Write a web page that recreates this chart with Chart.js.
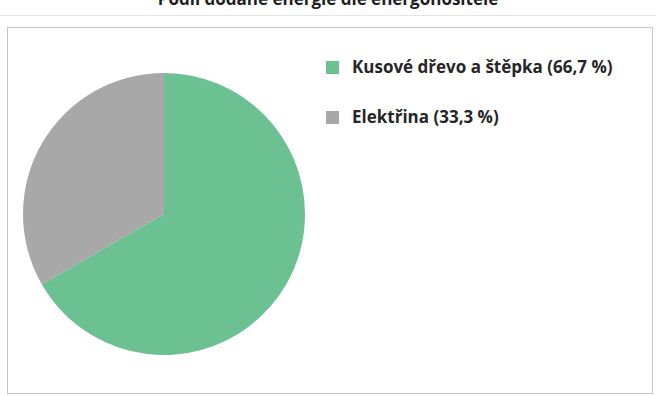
<!DOCTYPE html>
<html>
<head>
<meta charset="utf-8">
<script src="https://cdn.jsdelivr.net/npm/chart.js@4"></script>
<style>
  body { margin: 0; background: #fff; width: 656px; height: 396px; overflow: hidden; position: relative; font-family: "Open Sans", sans-serif; }
  #titulek { position: absolute; left: 0; width: 656px; top: -10px; text-align: center; font-weight: bold; font-size: 17px; line-height: 17px; color: #1e1e1e; }
  #linka { position: absolute; left: 0; width: 656px; top: 15px; border-top: 1px solid #e4e4e4; }
  #ramec { position: absolute; left: 7px; top: 27px; width: 644px; height: 365px; border: 1px solid #c8c8c8; }
  #graf-box { position: absolute; left: 0; top: 0; width: 312px; height: 365px; }
  #legenda { position: absolute; left: 318px; top: 27px; }
  .polozka { height: 50px; display: flex; align-items: flex-start; font-weight: bold; font-size: 17px; color: #262626; }
  .ctverec { width: 13px; height: 13px; margin-right: 13px; margin-top: 6px; }
</style>
</head>
<body>
<div id="titulek">Podíl dodané energie dle energonositele</div>
<div id="linka"></div>
<div id="ramec">
  <div id="graf-box"><canvas id="graf"></canvas></div>
  <div id="legenda"></div>
</div>
<script>
// data z grafu
const kategorie = ["Kusové dřevo a štěpka", "Elektřina"];
const hodnoty = [66.7, 33.3];
const barvy = ["#6cc193", "#a8a8a8"];

// legenda jako text
const legenda = document.getElementById("legenda");
kategorie.forEach((k, i) => {
  const div = document.createElement("div");
  div.className = "polozka";
  const sq = document.createElement("span");
  sq.className = "ctverec";
  sq.style.background = barvy[i];
  div.appendChild(sq);
  const t = document.createElement("span");
  t.textContent = k + " (" + hodnoty[i].toFixed(1).replace(".", ",") + " %)";
  div.appendChild(t);
  legenda.appendChild(div);
});

const ctx = document.getElementById("graf").getContext("2d");
new Chart(ctx, {
  type: "pie",
  data: {
    labels: kategorie,
    datasets: [{
      data: hodnoty,
      backgroundColor: barvy,
      borderWidth: 0
    }]
  },
  options: {
    responsive: true,
    maintainAspectRatio: false,
    animation: false,
    layout: { padding: { top: 45, bottom: 38, left: 0, right: 0 } },
    plugins: {
      legend: { display: false },
      tooltip: { enabled: false }
    }
  }
});
</script>
</body>
</html>
